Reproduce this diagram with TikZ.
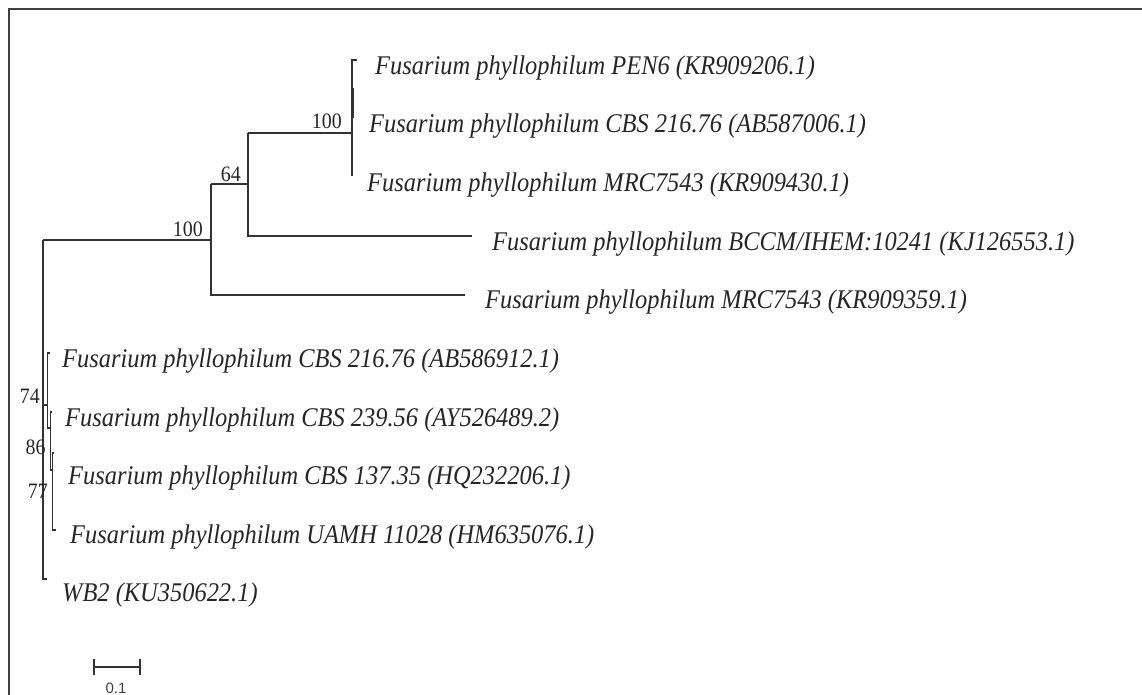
\documentclass[tikz,border=0pt]{standalone}
\usepackage{fontspec}
\setmainfont{Liberation Serif}[FakeStretch=0.905]
\newfontfamily\barfont{Liberation Sans}

\tikzset{
  branch/.style={draw=black!80, line width=1.3pt},
  taxon/.style={anchor=base west, inner sep=0pt, font=\fontsize{27}{27}\selectfont\itshape, text=black!85},
  support/.style={anchor=base east, inner sep=0pt, font=\fontsize{22}{22}\selectfont, text=black!85},
}

\begin{document}
\begin{tikzpicture}[x=1pt, y=-1pt]
    \useasboundingbox (0,0) rectangle (1142,695);

    % frame
    \draw[line width=2.4pt, black!75] (9,700) -- (9,9) -- (1150,9);

    % internal nodes
    \coordinate (root) at (43,240);
    \coordinate (nA) at (211,240);
    \coordinate (nB) at (248,184);
    \coordinate (nC) at (352,133);
    \coordinate (nD) at (47.7,405);
    \coordinate (nE) at (50.3,428);
    \coordinate (nF) at (52.3,470);

    % upper clade
    \draw[branch] (root) -- (nA);
    \draw[branch] (211,184) -- (211,295) -- (465,295);
    \draw[branch] (nA |- nB) -- (nB);
    \draw[branch] (248,133) -- (248,236) -- (472,236);
    \draw[branch] (nB |- nC) -- (nC);
    \draw[branch] (357,60) -- (352,60) -- (352,176);
    \draw[branch] (353.3,88) -- (353.3,118);

    % lower clade
    \draw[branch] (root) -- (43,579) -- (47,579);
    \draw[branch] (root |- nD) -- (nD);
    \draw[branch] (49.5,353) -- (47.7,353) -- (47.7,428) -- (nE);
    \draw[branch] (52,412) -- (50.3,412) -- (50.3,470) -- (nF);
    \draw[branch] (54,453) -- (52.3,453) -- (52.3,530) -- (55.7,530);

    % support values
    \node[support] (s100a) at (203,236) {100};
    \node[support] (s64) at (241,181.5) {64};
    \node[support] (s100b) at (342,129) {100};
    \node[support] (s74) at (40,403) {74};
    \node[support] (s86) at (45.7,454) {86};
    \node[support] (s77) at (48,498) {77};

    % taxa
    \node[taxon] (pen6) at (375,74.4) {Fusarium phyllophilum PEN6 (KR909206.1)};
    \node[taxon] (cbsA) at (369,133) {Fusarium phyllophilum CBS 216.76 (AB587006.1)};
    \node[taxon] (mrcA) at (367,191.6) {Fusarium phyllophilum MRC7543 (KR909430.1)};
    \node[taxon] (bccm) at (492,250.2) {Fusarium phyllophilum BCCM/IHEM:10241 (KJ126553.1)};
    \node[taxon] (mrcB) at (485,308.8) {Fusarium phyllophilum MRC7543 (KR909359.1)};
    \node[taxon] (cbsB) at (62,367.4) {Fusarium phyllophilum CBS 216.76 (AB586912.1)};
    \node[taxon] (cbsC) at (65,426) {Fusarium phyllophilum CBS 239.56 (AY526489.2)};
    \node[taxon] (cbsD) at (68,484.6) {Fusarium phyllophilum CBS 137.35 (HQ232206.1)};
    \node[taxon] (uamh) at (70,543.2) {Fusarium phyllophilum UAMH 11028 (HM635076.1)};
    \node[taxon] (wb2) at (62,601.8) {WB2 (KU350622.1)};

    % scale bar
    \coordinate (barL) at (94,667);
    \coordinate (barR) at (140,667);
    \draw[line width=2.3pt, black!80] (barL) -- (barR);
    \draw[line width=2pt, black!80] (94,659) -- (94,675);
    \draw[line width=2pt, black!80] (140,659) -- (140,675);
    \node[inner sep=0pt, font=\barfont\fontsize{15}{15}\selectfont, text=black!75] (barlabel) at (116,688) {0.1};
\end{tikzpicture}
\end{document}
